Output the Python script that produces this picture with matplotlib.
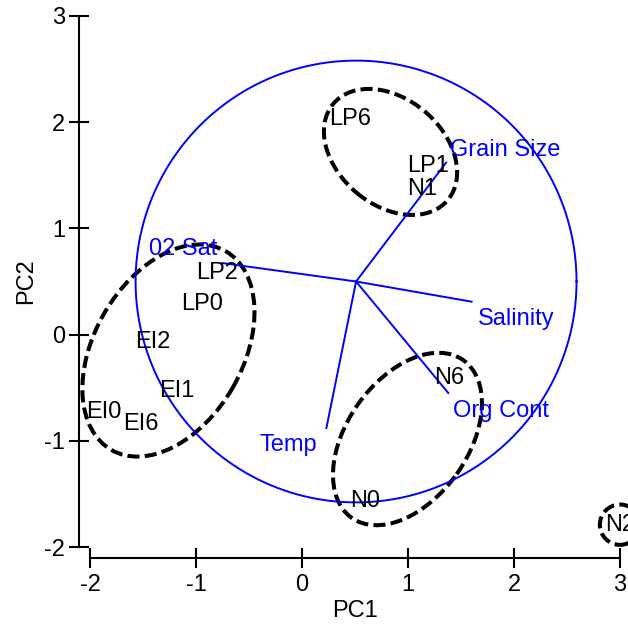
import numpy as np
import matplotlib
matplotlib.use("Agg")
import matplotlib.pyplot as plt
from matplotlib.patches import Ellipse

plt.rcParams['font.family'] = ['Liberation Sans', 'DejaVu Sans']
plt.rcParams['axes.unicode_minus'] = False

# sample scores (PC1, PC2)
samples = ["LP6", "LP1", "N1", "LP2", "LP0", "EI2", "EI1", "EI0", "EI6", "N6", "N0", "N2"]
pc1 = [0.45, 1.19, 1.13, -0.80, -0.94, -1.41, -1.18, -1.87, -1.52, 1.39, 0.60, 3.00]
pc2 = [2.03, 1.59, 1.37, 0.58, 0.29, -0.07, -0.53, -0.73, -0.84, -0.41, -1.57, -1.79]

# environmental vectors (biplot overlay)
variables = ["Grain Size", "02 Sat", "Salinity", "Org Cont", "Temp"]
vec_x = [1.36, -0.755, 1.60, 1.38, 0.23]
vec_y = [1.62, 0.674, 0.31, -0.55, -0.88]
var_lab_x = [1.92, -1.12, 2.02, 1.88, -0.13]
var_lab_y = [1.74, 0.81, 0.15, -0.72, -1.04]
origin = (0.51, 0.50)
circle_r = 2.08

# group ellipses: centre x, centre y, width, height, angle
ell_x = [0.835, -1.26, 0.995, 3.00]
ell_y = [1.72, -0.15, -0.983, -1.79]
ell_w = [1.41, 2.16, 1.82, 0.38]
ell_h = [1.00, 1.40, 1.14, 0.38]
ell_ang = [-40, 60, 54.6, 0]

fig = plt.figure(figsize=(6.28, 6.26), dpi=100)
ax = fig.add_axes([90 / 628, 79 / 626, 530 / 628, 531 / 626])
ax.set_xlim(-2, 3)
ax.set_ylim(-2, 3)

for side in ["top", "right"]:
    ax.spines[side].set_visible(False)
for side in ["left", "bottom"]:
    ax.spines[side].set_position(("outward", 7.9))
    ax.spines[side].set_linewidth(1.5)

ax.set_xticks([-2, -1, 0, 1, 2, 3])
ax.set_yticks([-2, -1, 0, 1, 2, 3])
ax.tick_params(direction="inout", length=14.4, width=1.5, labelsize=17)
ax.tick_params(axis="y", pad=2.9)
ax.tick_params(axis="x", pad=4.0)
ax.set_xlabel("PC1", fontsize=17, labelpad=3)
ax.set_ylabel("PC2", fontsize=17, labelpad=5)

# correlation circle
t = np.linspace(0, 2 * np.pi, 400)
ax.plot(origin[0] + circle_r * np.cos(t), origin[1] + circle_r * np.sin(t),
        color="blue", lw=1.4, clip_on=False)

for name, vx, vy, lx, ly in zip(variables, vec_x, vec_y, var_lab_x, var_lab_y):
    ax.plot([origin[0], vx], [origin[1], vy], color="blue", lw=1.4, clip_on=False)
    ax.text(lx, ly, name, color="blue", fontsize=17, ha="center", va="center", clip_on=False)

for cx, cy, w, h, a in zip(ell_x, ell_y, ell_w, ell_h, ell_ang):
    e = Ellipse((cx, cy), w, h, angle=a, fill=False, edgecolor="black", lw=2.9,
                linestyle=(0, (3.0, 1.3)), clip_on=False)
    ax.add_patch(e)

for name, x, y in zip(samples, pc1, pc2):
    ax.text(x, y, name, color="black", fontsize=17, ha="center", va="center", clip_on=False)

fig.savefig("out.png", dpi=100)
